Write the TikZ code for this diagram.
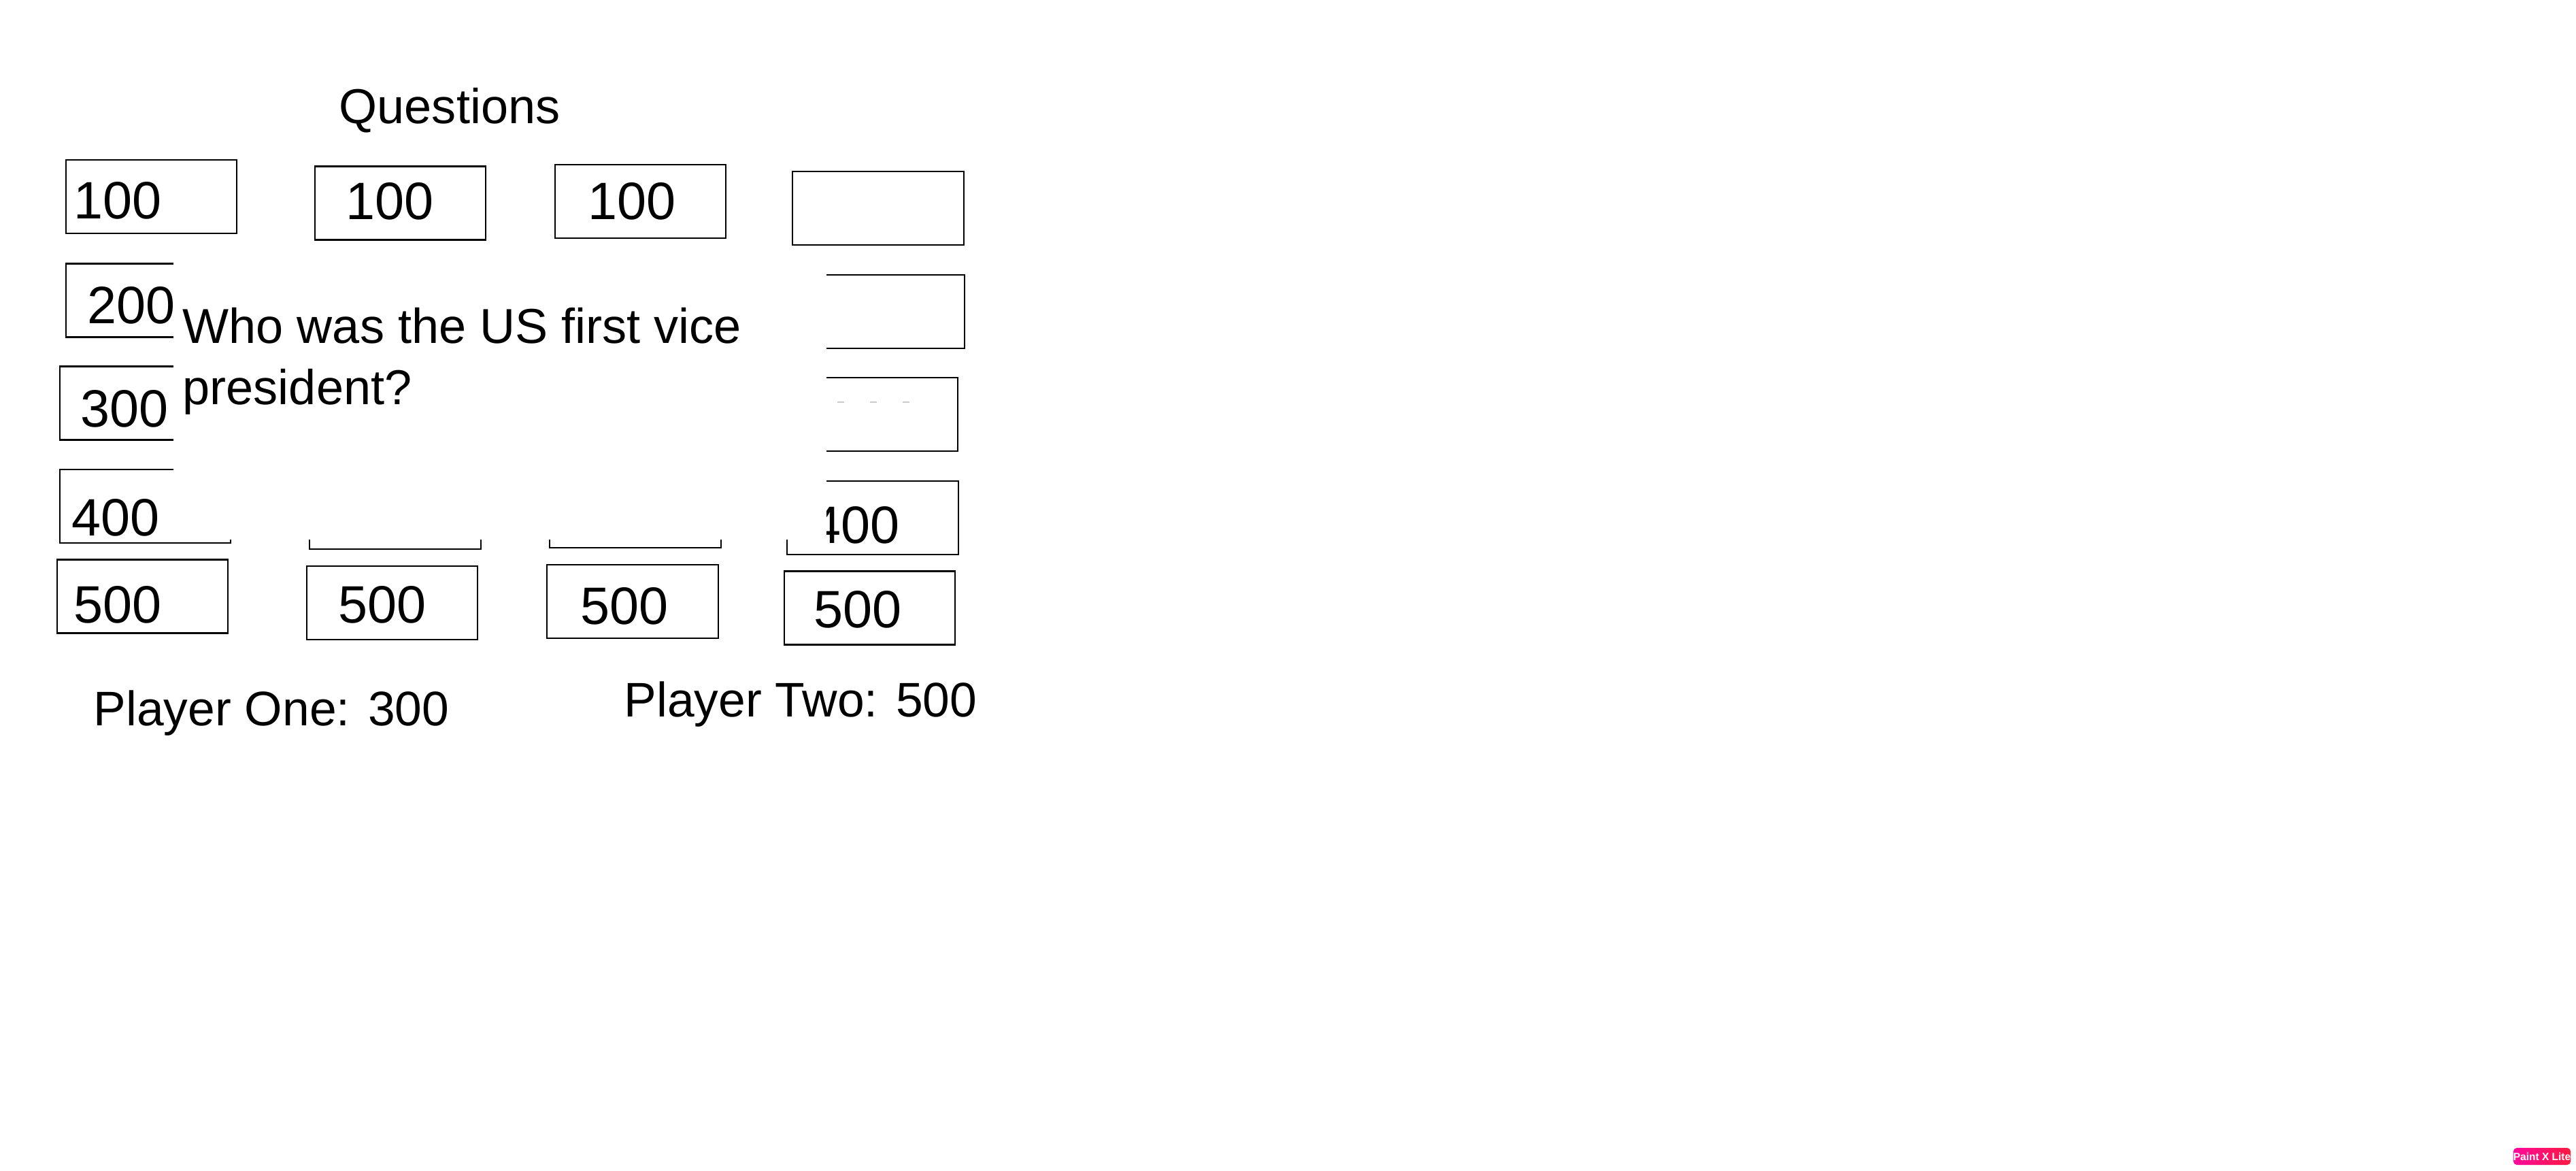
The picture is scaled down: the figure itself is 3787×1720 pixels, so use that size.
\documentclass[tikz,border=0pt]{standalone}
\usepackage{fontspec}
\setmainfont{Liberation Sans}
\definecolor{pxpink}{HTML}{FF0A9C}
\definecolor{pxred}{HTML}{FF1A40}

\begin{document}
\begin{tikzpicture}[x=0.01cm,y=-0.01cm,
    cell/.style={draw,line width=0.6pt,rectangle,inner sep=0pt,minimum width=2.51cm,minimum height=1.08cm},
    val/.style={anchor=base west,inner sep=0pt,font=\fontsize{22}{26}\selectfont},
    big/.style={anchor=base west,inner sep=0pt,font=\fontsize{20.5}{25.5}\selectfont},
    cover/.style={fill=white,draw=none,inner sep=0pt,anchor=north west,minimum width=9.6cm,minimum height=4.17cm},
    logo/.style={rounded corners=1.5pt,left color=pxpink,right color=pxred,text=white,inner sep=0pt,
        minimum width=0.8cm,minimum height=0.25cm,font=\fontsize{4.4}{5}\bfseries\selectfont}]
    \useasboundingbox (0,0) rectangle (3787,1720);
    \node[big] (title) at (498,181) {Questions};

    \node[cell] (c1r1) at (222.5,289) {};
    \node[cell] (c1r2) at (222.5,441.5) {};
    \node[cell] (c1r3) at (213.5,592.5) {};
    \node[cell] (c1r4) at (213.5,744) {};
    \node[cell] (c1r5) at (209.5,876.5) {};
    \node[val] (v1r1) at (108,321) {100};
    \node[val] (v1r2) at (128,475) {200};
    \node[val] (v1r3) at (118,627) {300};
    \node[val] (v1r4) at (105,787) {400};
    \node[val] (v1r5) at (108,915) {500};

    \node[cell] (c2r1) at (588.5,298.5) {};
    \node[cell] (c2r4) at (581,753) {};
    \node[cell] (c2r5) at (576.5,886) {};
    \node[val] (v2r1) at (508,322) {100};
    \node[val] (v2r5) at (497,915) {500};

    \node[cell] (c3r1) at (941.5,296) {};
    \node[cell] (c3r4) at (934,751) {};
    \node[cell] (c3r5) at (930,884) {};
    \node[val] (v3r1) at (864,322) {100};
    \node[val] (v3r5) at (853,917.5) {500};

    \node[cell] (c4r1) at (1291,306) {};
    \node[cell] (c4r2) at (1292,458) {};
    \node[cell] (c4r3) at (1282,609) {};
    \node[cell] (c4r4) at (1283,761) {};
    \node[cell] (c4r5) at (1278.5,893.5) {};
    \node[val] (v4r4) at (1193,798) {400};
    \node[val] (v4r5) at (1196,922.5) {500};
    \foreach \x in {1231,1279,1327}
        \draw[gray!40,line width=0.4pt] (\x,591) -- ++(10,0);

    \node[cover] (panel) at (254,375) {};
    \node[big,anchor=north west,align=left] (question) at (268,452)
        {Who was the US first vice\\president?};

    \node[big,font=\fontsize{20.3}{25}\selectfont] (playerone) at (137,1066) {Player One: 300};
    \node[big,font=\fontsize{20.3}{25}\selectfont] (playertwo) at (917,1053) {Player Two: 500};

    \node[logo] (badge) at (3737,1699.5) {Paint X Lite};
\end{tikzpicture}
\end{document}
